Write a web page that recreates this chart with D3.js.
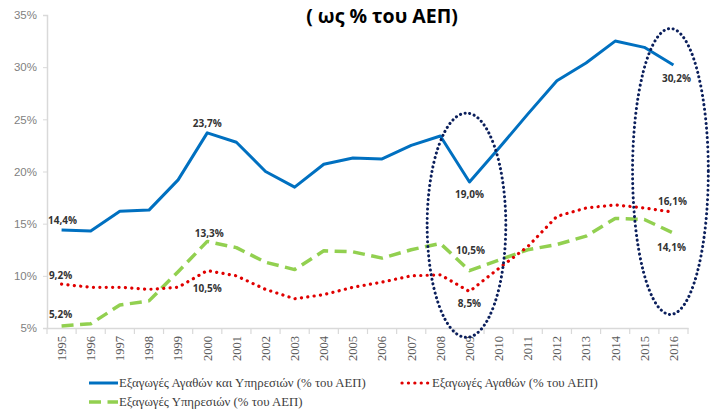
<!DOCTYPE html>
<html><head><meta charset="utf-8">
<script src="https://cdn.jsdelivr.net/npm/d3@7"></script>
<style>body{margin:0;background:#fff}svg{display:block}</style>
</head><body>
<svg id="c" width="716" height="409"></svg>
<script>
const years = ["1995","1996","1997","1998","1999","2000","2001","2002","2003","2004","2005","2006","2007","2008","2009","2010","2011","2012","2013","2014","2015","2016"];
const totalExports = [14.4,14.3,16.2,16.3,19.2,23.7,22.8,20.0,18.5,20.7,21.3,21.2,22.5,23.4,19.0,22.2,25.5,28.7,30.4,32.5,31.9,30.2];
const goodsExports = [9.2,8.9,8.9,8.7,8.9,10.5,10.0,8.7,7.8,8.2,8.9,9.4,10.0,10.1,8.5,10.7,12.8,15.7,16.5,16.8,16.5,16.1];
const servicesExports = [5.2,5.4,7.2,7.6,10.4,13.3,12.7,11.3,10.6,12.4,12.3,11.7,12.5,13.1,10.5,11.5,12.5,13.0,13.8,15.5,15.4,14.1];
const yTicks = [5,10,15,20,25,30,35];
const seriesNames = ["Εξαγωγές Αγαθών και Υπηρεσιών (% του ΑΕΠ)","Εξαγωγές Αγαθών (% του ΑΕΠ)","Εξαγωγές Υπηρεσιών (% του ΑΕΠ)"];
const title = "( ως % του ΑΕΠ)";
// labelled points: [series index, year, text, dx, dy]
const labels = [
  [0,"1995","14,4%",1,-9],[1,"1995","9,2%",-1,-9],[2,"1995","5,2%",-1,-11],
  [0,"2000","23,7%",0,-9],[2,"2000","13,3%",2,-8],[1,"2000","10,5%",0,18],
  [0,"2009","19,0%",0,13],[2,"2009","10,5%",1,-20],[1,"2009","8,5%",0,12],
  [0,"2016","30,2%",3,13],[1,"2016","16,1%",-1,-11],[2,"2016","14,1%",-2,14]
];
// highlight ellipses: [year, top value, bottom value, half-width in bands]
const ellipses = [["2009",25.6,4.1,1.35],["2016",33.7,6.3,1.3]];

const svg = d3.select("#c");
const x = d3.scaleBand().domain(years).range([47,688]);
const y = d3.scaleLinear().domain([5,35]).range([328,15]);
const cx = d => x(d)+x.bandwidth()/2;

// title
svg.append("text").attr("x",382).attr("y",23).attr("text-anchor","middle")
  .attr("font-family","Open Sans, sans-serif").attr("font-weight","bold").attr("font-size",19.5)
  .attr("fill","#000").text(title);

// y axis
const ya = svg.append("g").attr("transform","translate(47,0)")
  .call(d3.axisLeft(y).tickValues(yTicks).tickFormat(d=>d+"%").tickSize(4).tickPadding(6));
ya.select(".domain").attr("stroke","#d9d9d9").attr("stroke-width",1.5);
ya.selectAll(".tick line").attr("stroke","#d9d9d9");
ya.selectAll("text").attr("font-family","Liberation Sans, Arial, sans-serif").attr("font-size",11.5).attr("fill","#7f7f7f");

// x axis
const xa = svg.append("g").attr("transform","translate(0,328)")
  .call(d3.axisBottom(x).tickSize(0).tickPadding(8));
xa.select(".domain").attr("stroke","#d9d9d9").attr("stroke-width",1.5);
xa.selectAll(".tick line").remove();
xa.selectAll(".bt").data(years.concat(["end"])).enter().append("line")
  .attr("x1",(d,i)=>47+i*x.step()).attr("x2",(d,i)=>47+i*x.step())
  .attr("y1",0).attr("y2",6).attr("stroke","#d9d9d9").attr("stroke-width",1.2);
xa.selectAll(".tick text").attr("transform","rotate(-90)").attr("text-anchor","end")
  .attr("x",-8).attr("y",0).attr("dy","0.35em")
  .attr("font-family","Liberation Serif, Times New Roman, serif").attr("font-size",12.5).attr("fill","#595959");

const line = d3.line().x((d,i)=>cx(years[i])).y(d=>y(d));
const data = [totalExports, goodsExports, servicesExports];
const styles = [
  {c:"#0070c0",w:3,dash:null,cap:"butt"},
  {c:"#e00000",w:3.2,dash:"0.1 6.3",cap:"round"},
  {c:"#92d050",w:3.5,dash:"12 6.5",cap:"butt"}
];
[2,1,0].forEach(i=>{
  svg.append("path").datum(data[i]).attr("d",line).attr("fill","none")
    .attr("stroke",styles[i].c).attr("stroke-width",styles[i].w)
    .attr("stroke-dasharray",styles[i].dash).attr("stroke-linecap",styles[i].cap)
    .attr("stroke-linejoin","round");
});

// ellipses
ellipses.forEach(e=>{
  const top=y(e[1]), bot=y(e[2]);
  svg.append("ellipse").attr("cx",cx(e[0])-3).attr("cy",(top+bot)/2)
    .attr("rx",x.step()*e[3]).attr("ry",(bot-top)/2)
    .attr("fill","none").attr("stroke","#0b1f5c").attr("stroke-width",3)
    .attr("stroke-dasharray","0.1 4.6").attr("stroke-linecap","round");
});

// data labels
labels.forEach(l=>{
  const v = data[l[0]][years.indexOf(l[1])];
  svg.append("text").attr("x",cx(l[1])+l[3]).attr("y",y(v)+l[4]).attr("dy","0.35em")
    .attr("text-anchor","middle").attr("font-family","Open Sans, sans-serif")
    .attr("font-weight","bold").attr("font-size",10).attr("fill","#333").text(l[2]);
});

// legend
const leg = [
  {i:0,x:89,y:383},{i:1,x:402,y:383},{i:2,x:89,y:402}
];
leg.forEach(l=>{
  const s=styles[l.i];
  svg.append("line").attr("x1",l.x).attr("x2",l.x+29).attr("y1",l.y).attr("y2",l.y)
    .attr("stroke",s.c).attr("stroke-width",s.w).attr("stroke-dasharray",s.dash).attr("stroke-linecap",s.cap);
  svg.append("text").attr("x",l.x+30).attr("y",l.y).attr("dy","0.35em")
    .attr("font-family","Liberation Serif, Times New Roman, serif").attr("font-size",12.8)
    .attr("fill","#404040").text(seriesNames[l.i]);
});
</script>
</body></html>
